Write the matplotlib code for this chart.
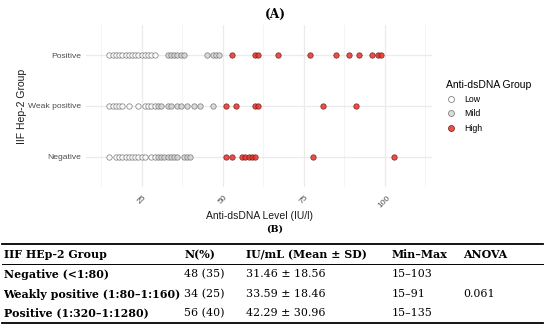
import matplotlib
matplotlib.use("Agg")
import matplotlib.pyplot as plt
from matplotlib.lines import Line2D

# ---------------- data ----------------
groups = ["Negative", "Weak positive", "Positive"]
negative_vals = [15, 17, 18, 19, 20, 21, 22, 23, 24, 25, 26, 28, 29, 30, 31, 32, 33, 34,
                 35, 36, 38, 39, 40, 51, 53, 56, 57, 58, 59, 60, 78, 103]
weak_vals = [15, 16, 17, 18, 19, 21, 24, 26, 27, 28, 29, 30, 31, 33, 34, 36, 37, 39,
             41, 43, 47, 51, 54, 60, 61, 81, 91]
positive_vals = [15, 16, 17, 18, 19, 20, 21, 22, 23, 24, 25, 26, 27, 28, 29, 33, 34, 35,
                 36, 37, 38, 45, 47, 48, 49, 53, 60, 61, 67, 77, 85, 89, 92, 96, 98, 99]
level_names = ["Low", "Mild", "High"]
level_thresholds = [30, 50]
x_ticks = [25, 50, 75, 100]

table_header = ["IIF HEp-2 Group", "N(%)", "IU/mL (Mean ± SD)", "Min–Max", "ANOVA"]
table_rows = [
    ["Negative (<1:80)", "48 (35)", "31.46 ± 18.56", "15–103", ""],
    ["Weakly positive (1:80–1:160)", "34 (25)", "33.59 ± 18.46", "15–91", "0.061"],
    ["Positive (1:320–1:1280)", "56 (40)", "42.29 ± 30.96", "15–135", ""],
]

# ---------------- styles ----------------
W, H = 550, 328
SANS = "Liberation Sans"
fill = {"Low": "#ffffff", "Mild": "#d6d6d6", "High": "#ee2f28"}
edge = {"Low": "#6e6e6e", "Mild": "#6e6e6e", "High": "#6a1a18"}

def level(v):
    if v < level_thresholds[0]:
        return "Low"
    if v <= level_thresholds[1]:
        return "Mild"
    return "High"

fig = plt.figure(figsize=(5.5, 3.28), dpi=100)
fx = lambda px: px / W
fy = lambda py: 1 - py / H

ax = fig.add_axes([fx(86), fy(187), (432 - 86) / W, (187 - 25) / H])
for s in ax.spines.values():
    s.set_visible(False)

series = [negative_vals, weak_vals, positive_vals]
for gi, vals in enumerate(series):
    for lv in level_names:
        xs = [v for v in vals if level(v) == lv]
        ax.scatter(xs, [gi + 1] * len(xs), s=15, facecolor=fill[lv],
                   edgecolor=edge[lv], linewidth=0.55, alpha=0.85, zorder=3)

ax.set_xlim(7.8, 114.6)
ax.set_ylim(0.4, 3.6)
ax.set_xticks(x_ticks)
ax.set_xticks([12.5, 37.5, 62.5, 87.5, 112.5], minor=True)
ax.set_yticks([1, 2, 3])
ax.set_yticklabels(groups)
ax.grid(True, which="major", color="#ebebeb", linewidth=0.9, zorder=0)
ax.grid(True, which="minor", axis="x", color="#f2f2f2", linewidth=0.6, zorder=0)
ax.set_axisbelow(True)
ax.tick_params(axis="both", which="both", length=0, colors="#4d4d4d", labelsize=6.1)
ax.tick_params(axis="y", pad=3.5)
ax.tick_params(axis="x", pad=5)
for lab in ax.get_xticklabels() + ax.get_yticklabels():
    lab.set_family(SANS)
for lab in ax.get_xticklabels():
    lab.set_rotation(45)
    lab.set_ha("center")
    lab.set_va("top")
ax.set_xlabel("Anti-dsDNA Level (IU/l)", fontsize=7.5, color="#1a1a1a", va="center",
              family=SANS)
ax.xaxis.set_label_coords(0.5, (187 - 216) / 162)
ax.set_ylabel("IIF Hep-2 Group", fontsize=7.5, color="#1a1a1a", va="center",
              family=SANS)
ax.yaxis.set_label_coords((22.5 - 86) / 346, 0.5)

# legend
handles = [Line2D([], [], marker="o", linestyle="none", markersize=4.3,
                  markerfacecolor=fill[lv], markeredgecolor=edge[lv],
                  markeredgewidth=0.6, alpha=0.85) for lv in level_names]
leg = fig.legend(handles, level_names, loc="upper left",
                 bbox_to_anchor=(fx(446), fy(80)), frameon=False,
                 title="Anti-dsDNA Group",
                 prop={"family": SANS, "size": 6.3},
                 title_fontproperties={"family": SANS, "size": 7.5},
                 handletextpad=1.0, labelspacing=0.6, handlelength=1.1,
                 borderaxespad=0, borderpad=0)
leg._legend_box.align = "left"

# panel titles
fig.text(fx(275), fy(14.5), "(A)", ha="center", va="center", fontsize=8.8,
         fontweight="bold", family="DejaVu Serif")
fig.text(fx(275), fy(229.5), "(B)", ha="center", va="center", fontsize=6.8,
         fontweight="bold", family="DejaVu Serif")

# table
col_x = [3.5, 184.5, 246, 391.5, 463.5]
row_y = [255, 274, 294, 313]
tfont = dict(family="DejaVu Serif", fontsize=7.9, va="center", ha="left", color="black")
for j, txt in enumerate(table_header):
    fig.text(fx(col_x[j]), fy(row_y[0]), txt, fontweight="bold", **tfont)
for i, row in enumerate(table_rows):
    for j, txt in enumerate(row):
        fig.text(fx(col_x[j]), fy(row_y[i + 1]), txt,
                 fontweight="bold" if j == 0 else "normal", **tfont)
for yy, lw in [(244, 1.3), (263.5, 0.7), (323, 1.3)]:
    fig.add_artist(Line2D([fx(2), fx(543)], [fy(yy), fy(yy)], color="black",
                          linewidth=lw, transform=fig.transFigure))

fig.savefig("out.png", dpi=100)
